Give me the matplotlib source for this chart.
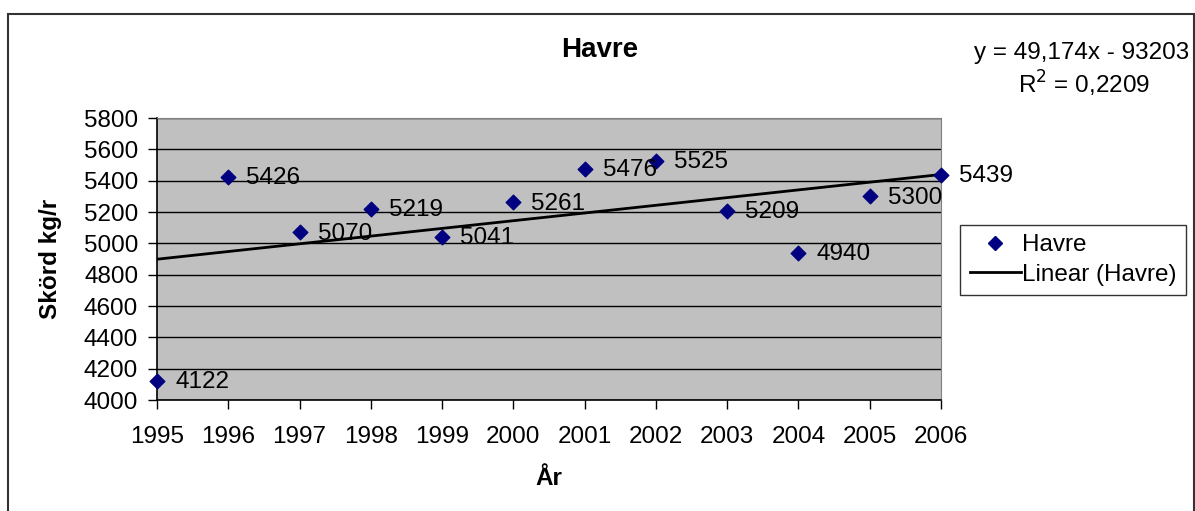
import matplotlib
matplotlib.use("Agg")
import matplotlib.pyplot as plt
import numpy as np
from matplotlib.lines import Line2D
from matplotlib.patches import Rectangle

plt.rcParams["font.family"] = ["Liberation Sans", "DejaVu Sans"]

years = [1995, 1996, 1997, 1998, 1999, 2000, 2001, 2002, 2003, 2004, 2005, 2006]
yield_kg = [4122, 5426, 5070, 5219, 5041, 5261, 5476, 5525, 5209, 4940, 5300, 5439]
y_ticks = list(range(4000, 5801, 200))
eq_text = "y = 49,174x - 93203"
r2_text = "R$^2$ = 0,2209"

FS = 17.5

fig = plt.figure(figsize=(11.95, 5.11), dpi=100)
# outer chart frame (bottom edge runs off the image in the reference)
fig.patches.append(Rectangle((8 / 1195, -0.02), (1194 - 8) / 1195, (511 - 14) / 511 + 0.02,
                             transform=fig.transFigure, fill=False,
                             edgecolor="#333333", lw=1.5))

ax = fig.add_axes([157 / 1195, 1 - 400 / 511, (941 - 157) / 1195, (400 - 118) / 511])
ax.set_facecolor("#c0c0c0")

x = np.array(years, dtype=float)
y = np.array(yield_kg, dtype=float)
coef = np.polyfit(x, y, 1)
ax.plot(x[[0, -1]], np.polyval(coef, x[[0, -1]]), color="black", lw=2.0, zorder=3)
ax.scatter(x, y, marker="D", s=55, color="#000080", zorder=4, clip_on=False)
for xi, yi in zip(years, yield_kg):
    ax.annotate(str(yi), (xi, yi), xytext=(13, -1), textcoords="offset points",
                va="center", ha="left", fontsize=FS, zorder=5)

ax.set_xlim(1995, 2006)
ax.set_ylim(4000, 5800)
ax.set_xticks(years)
ax.set_yticks(y_ticks)
ax.tick_params(labelsize=FS, length=6.5, width=1, colors="black")
ax.tick_params(axis="x", pad=12)
ax.tick_params(axis="y", pad=7)
ax.grid(axis="y", color="black", lw=1.0)
ax.set_axisbelow(True)
for side in ("top", "right"):
    ax.spines[side].set_color("#808080")
ax.spines["left"].set_linewidth(1.2)
ax.spines["bottom"].set_linewidth(1.2)

ax.set_xlabel("År", fontsize=FS, fontweight="bold")
ax.set_ylabel("Skörd kg/r", fontsize=FS, fontweight="bold")
ax.xaxis.set_label_coords(0.5, (400 - 467) / 282)
ax.yaxis.set_label_coords((62 - 157) / 784, 0.5)

fig.text(600 / 1195, 1 - 50 / 511, "Havre", fontsize=20, fontweight="bold",
         ha="center", va="center")
fig.text(1189 / 1195, 1 - 53 / 511, eq_text, fontsize=FS, ha="right", va="center")
fig.text(1084 / 1195, 1 - 84 / 511, r2_text, fontsize=FS, ha="center", va="center")

handles = [Line2D([0], [0], marker="D", color="#000080", ls="none", ms=7.5, label="Havre"),
           Line2D([0], [0], color="black", lw=2, label="Linear (Havre)")]
leg = fig.legend(handles=handles, loc="center", bbox_to_anchor=(1073 / 1195, 1 - 260 / 511),
                 fontsize=FS, frameon=True, fancybox=False, edgecolor="black",
                 handlelength=2.1, handletextpad=0.05, borderpad=0.4, labelspacing=0.3,
                 borderaxespad=0)
leg.get_frame().set_linewidth(1.0)

fig.savefig("out.png", dpi=100)
